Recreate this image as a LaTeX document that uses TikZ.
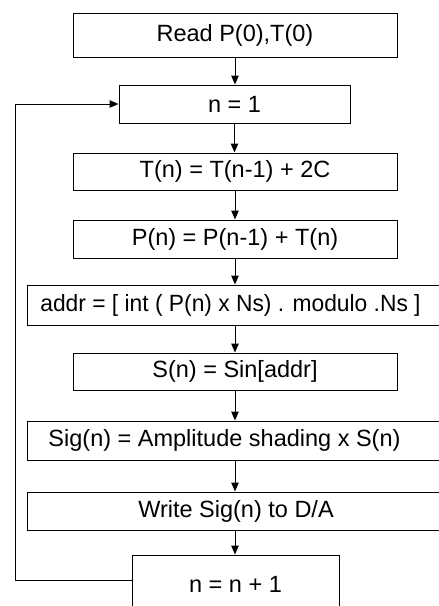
\documentclass[tikz,border=0pt]{standalone}
\usepackage{fontspec}
\setmainfont{Liberation Sans}
\usetikzlibrary{arrows.meta}
\begin{document}
\begin{tikzpicture}[x=1pt,y=-1pt,
  box/.style={draw, line width=1pt, inner sep=0pt, font=\fontsize{23.5}{28}\selectfont},
  arr/.style={line width=1pt, -{Triangle[length=9pt,width=7.5pt]}}]
\useasboundingbox (0,0) rectangle (439,606);
\clip (0,0) rectangle (439,606);
\node[box, minimum width=324pt, minimum height=44pt] (n1) at (235,35) {Read P(0),T(0)};
\node[box, minimum width=231pt, minimum height=38pt] (n2) at (234.5,104) {n = 1};
\node[box, minimum width=324pt, minimum height=37pt] (n3) at (235,171.5) {T(n) = T(n-1) + 2C};
\node[box, minimum width=324pt, minimum height=38pt] (n4) at (235,239) {P(n) = P(n-1) + T(n)};
\node[box, minimum width=423pt, minimum height=40pt] (n5) at (238.5,305) {\scalebox{0.97}[1]{addr = [ int ( P(n) x Ns) . modulo .Ns ]}\hspace*{16pt}};
\node[box, minimum width=324pt, minimum height=37pt] (n6) at (235,371.5) {S(n) = Sin[addr]};
\node[box, minimum width=423pt, minimum height=39pt] (n7) at (238.5,440.5) {Sig(n) = Amplitude shading x S(n)\hspace*{28pt}};
\node[box, minimum width=423pt, minimum height=38pt] (n8) at (238.5,511) {Write Sig(n) to D/A\hspace*{5pt}};
\node[box, minimum width=207pt, minimum height=60pt] (n9) at (235.5,585) {\raisebox{2pt}{n = n + 1}};
\coordinate (c1) at (15,580);
\coordinate (c2) at (15,104);
\draw[arr] (n1.south) -- (n1.south |- n2.north);
\draw[arr] (n2.south) -- (n2.south |- n3.north);
\draw[arr] (n3.south) -- (n3.south |- n4.north);
\draw[arr] (n4.south) -- (n4.south |- n5.north);
\draw[arr] (n4.south |- n5.south) -- (n4.south |- n6.north);
\draw[arr] (n6.south) -- (n6.south |- n7.north);
\draw[arr] (n6.south |- n7.south) -- (n6.south |- n8.north);
\draw[arr] (n6.south |- n8.south) -- (n6.south |- n9.north);
\draw[arr] (n9.west |- c1) -- (c1) -- (c2) -- (n2.west);
\end{tikzpicture}
\end{document}
